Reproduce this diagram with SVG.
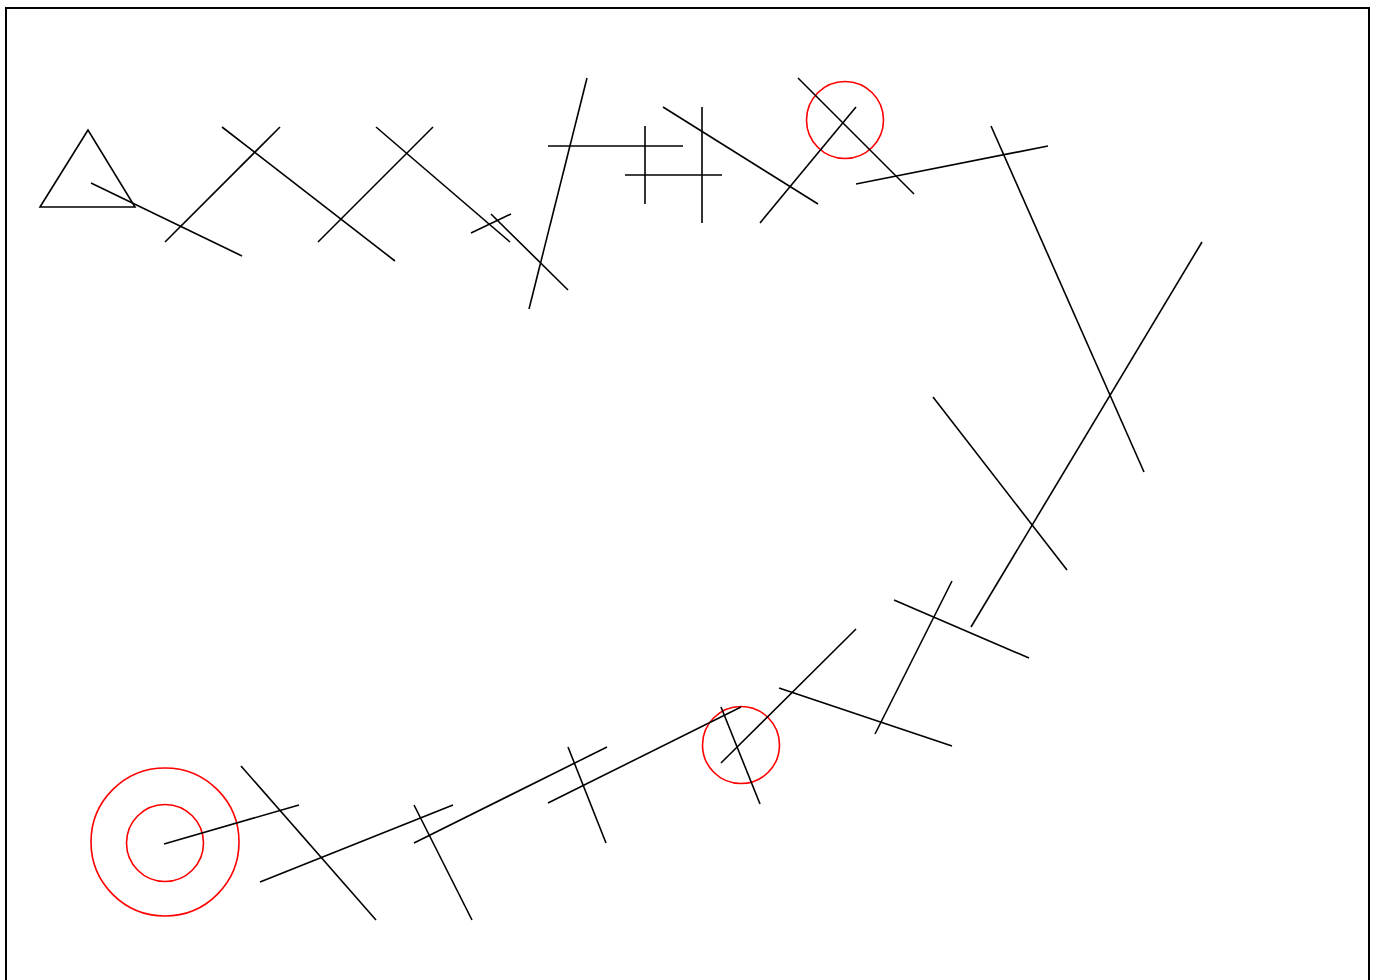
<svg xmlns="http://www.w3.org/2000/svg" width="1375" height="980" viewBox="0 0 1375 980">
<style>
.l{stroke:#000;stroke-width:1.6;fill:none}
.c{stroke:#f00;stroke-width:1.6;fill:none}
</style>
<rect x="0" y="0" width="1375" height="980" fill="#fff"/>
<rect x="6" y="8" width="1363" height="990" fill="none" stroke="#000" stroke-width="2"/>
<g id="triangle"><polygon class="l" points="88,130 40,207 135,207"/></g>
<g id="circles">
<circle class="c" cx="845" cy="120" r="38.5"/>
<circle class="c" cx="741" cy="745" r="38.5"/>
<circle class="c" cx="165" cy="842" r="74"/>
<circle class="c" cx="165" cy="843" r="38.5"/>
</g>
<g id="lines" class="l">
<line x1="91" y1="183" x2="242" y2="256"/>
<line x1="165" y1="242" x2="280" y2="127"/>
<line x1="222" y1="127" x2="395" y2="261"/>
<line x1="318" y1="242" x2="433" y2="127"/>
<line x1="376" y1="127" x2="510" y2="242"/>
<line x1="471" y1="233" x2="511" y2="214"/>
<line x1="491" y1="214" x2="568" y2="290"/>
<line x1="587" y1="78" x2="529" y2="309"/>
<line x1="548" y1="146" x2="683" y2="146"/>
<line x1="645" y1="126" x2="645" y2="204"/>
<line x1="625" y1="175" x2="722" y2="175"/>
<line x1="702" y1="107" x2="702" y2="223"/>
<line x1="663" y1="107" x2="818" y2="204"/>
<line x1="760" y1="223" x2="856" y2="107"/>
<line x1="798" y1="78" x2="914" y2="194"/>
<line x1="856" y1="184" x2="1048" y2="146"/>
<line x1="991" y1="126" x2="1144" y2="472"/>
<line x1="1202" y1="242" x2="971" y2="627"/>
<line x1="933" y1="397" x2="1067" y2="570"/>
<line x1="952" y1="581" x2="875" y2="734"/>
<line x1="894" y1="600" x2="1029" y2="658"/>
<line x1="856" y1="629" x2="721" y2="763"/>
<line x1="779" y1="688" x2="952" y2="746"/>
<line x1="721" y1="707" x2="760" y2="804"/>
<line x1="741" y1="707" x2="548" y2="803"/>
<line x1="414" y1="843" x2="607" y2="747"/>
<line x1="568" y1="747" x2="606" y2="843"/>
<line x1="164" y1="844" x2="299" y2="805"/>
<line x1="241" y1="766" x2="376" y2="920"/>
<line x1="260" y1="882" x2="453" y2="805"/>
<line x1="414" y1="805" x2="472" y2="920"/>
</g>
</svg>
